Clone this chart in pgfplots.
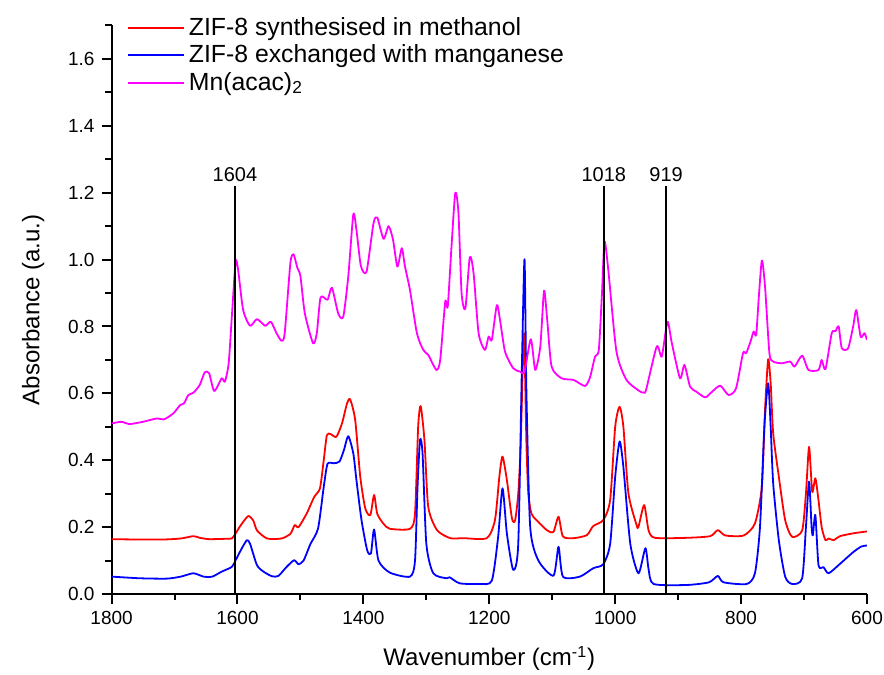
\documentclass[border=0pt]{standalone}
\usepackage{fontspec}
\setmainfont{Liberation Sans}
\usepackage{pgfplots}
\pgfplotsset{compat=1.18}
\usetikzlibrary{calc}
\definecolor{magline}{RGB}{255,0,255}

\begin{document}
\begin{tikzpicture}
\begin{axis}[
    width=377.7pt, height=284.25pt,
    scale only axis,
    x dir=reverse,
    xmin=600, xmax=1800,
    ymin=0, ymax=1.7,
    axis x line*=bottom,
    axis y line*=left,
    axis line style={line width=1pt},
    tick align=outside,
    major tick length=5pt,
    minor tick length=3.2pt,
    every tick/.style={black, line width=1pt},
    xtick={600,800,...,1800},
    minor xtick={700,900,...,1700},
    ytick={0,0.2,...,1.6},
    minor ytick={0.1,0.3,...,1.7},
    /pgf/number format/assume math mode=true,
    xticklabel style={/pgf/number format/1000 sep={}, font=\fontsize{9.5}{11}\selectfont},
    yticklabel style={/pgf/number format/fixed, /pgf/number format/fixed zerofill, /pgf/number format/precision=1, font=\fontsize{9.5}{11}\selectfont},
    xlabel={Wavenumber (cm\textsuperscript{-1})},
    ylabel={Absorbance (a.u.)},
    label style={font=\fontsize{12}{14}\selectfont},
    xlabel style={yshift=-4pt},
    ylabel style={yshift=5pt},
    legend style={at={(0.02,1.022)}, anchor=north west, draw=none, fill=none,
        font=\fontsize{12.4}{14}\selectfont, row sep=-0.8pt, inner sep=0pt},
    legend cell align=left,
    legend image code/.code={\draw[#1] (0pt,0pt) -- (28pt,0pt);},
    every axis plot/.append style={line width=0.9pt, line join=round, smooth, tension=0.4},
]
\coordinate (sw) at (rel axis cs:0,0);
\coordinate (ne) at (rel axis cs:1,1);

% ZIF-8 in methanol
\addplot[red] coordinates {
(1800,0.164) (1760,0.163) (1717,0.163) (1690,0.166) (1670,0.173) (1660,0.168)
(1645,0.164) (1620,0.165) (1609,0.166) (1603,0.181) (1595,0.205) (1583,0.233)
(1575,0.220) (1569,0.190) (1553,0.166) (1530,0.166) (1516,0.180) (1509,0.206)
(1503,0.200) (1490,0.241) (1478,0.291) (1469,0.316) (1463,0.400) (1458,0.475)
(1452,0.478) (1443,0.470) (1434,0.510) (1426,0.570) (1421,0.582) (1413,0.520)
(1405,0.351) (1397,0.256) (1389,0.236) (1383,0.296) (1378,0.240) (1368,0.210)
(1358,0.195) (1326,0.195) (1318,0.241) (1313,0.500) (1309,0.562) (1303,0.460)
(1297,0.261) (1283,0.191) (1262,0.167) (1241,0.167) (1204,0.167) (1191,0.221)
(1184,0.351) (1179,0.411) (1172,0.340) (1164,0.226) (1159,0.220) (1154,0.300)
(1150,0.450) (1145,0.780) (1141,0.450) (1138,0.300) (1133,0.240) (1125,0.221)
(1108,0.190) (1098,0.186) (1090,0.231) (1083,0.172) (1066,0.167) (1045,0.176)
(1035,0.203) (1019,0.221) (1008,0.281) (1000,0.500) (993,0.560) (987,0.500)
(979,0.301) (966,0.206) (963,0.201) (954,0.266) (947,0.191) (937,0.168)
(886,0.168) (849,0.173) (837,0.191) (825,0.175) (796,0.175) (778,0.211)
(767,0.321) (762,0.550) (757,0.702) (753,0.630) (749,0.480) (740,0.350)
(730,0.221) (719,0.171) (703,0.190) (697,0.300) (692,0.440) (687,0.306)
(682,0.346) (677,0.280) (672,0.200) (666,0.161) (661,0.166) (653,0.161)
(643,0.173) (620,0.182) (600,0.187)
};
\addlegendentry{ZIF-8 synthesised in methanol}

% exchanged with Mn
\addplot[blue] coordinates {
(1800,0.052) (1755,0.047) (1712,0.046) (1690,0.052) (1670,0.062) (1654,0.052)
(1640,0.052) (1625,0.067) (1609,0.081) (1603,0.101) (1593,0.137) (1585,0.161)
(1580,0.150) (1569,0.086) (1558,0.066) (1545,0.053) (1535,0.054) (1522,0.081)
(1510,0.101) (1503,0.089) (1495,0.100) (1484,0.150) (1472,0.196) (1463,0.320)
(1457,0.389) (1447,0.391) (1438,0.396) (1431,0.430) (1424,0.472) (1416,0.420)
(1411,0.340) (1403,0.221) (1394,0.131) (1388,0.121) (1383,0.193) (1376,0.100)
(1358,0.064) (1326,0.052) (1318,0.100) (1314,0.320) (1310,0.461) (1306,0.420)
(1300,0.150) (1289,0.062) (1268,0.047) (1263,0.050) (1247,0.032) (1215,0.030)
(1196,0.040) (1186,0.170) (1179,0.316) (1172,0.180) (1162,0.072) (1154,0.150)
(1148,0.700) (1144,1.001) (1141,0.600) (1135,0.200) (1122,0.100) (1098,0.055)
(1090,0.141) (1083,0.052) (1056,0.052) (1035,0.077) (1019,0.089) (1008,0.150)
(1000,0.350) (993,0.456) (987,0.380) (976,0.150) (963,0.062) (952,0.137)
(947,0.075) (939,0.030) (886,0.027) (851,0.035) (837,0.054) (828,0.035)
(791,0.030) (778,0.062) (770,0.200) (763,0.500) (757,0.630) (753,0.500)
(749,0.330) (740,0.160) (730,0.052) (719,0.030) (703,0.047) (697,0.200)
(692,0.336) (688,0.200) (686,0.176) (682,0.236) (677,0.086) (669,0.080)
(661,0.062) (643,0.090) (622,0.125) (609,0.142) (600,0.145)
};
\addlegendentry{ZIF-8 exchanged with manganese}

% Mn(acac)2
\addplot[magline] coordinates {
(1800,0.510) (1784,0.515) (1772,0.508) (1750,0.515) (1728,0.525) (1717,0.522)
(1702,0.540) (1691,0.565) (1685,0.570) (1678,0.595) (1670,0.602) (1660,0.625)
(1652,0.663) (1645,0.660) (1637,0.607) (1625,0.645) (1620,0.635) (1614,0.690)
(1609,0.829) (1603,0.994) (1599,0.969) (1591,0.849) (1580,0.802) (1569,0.822)
(1556,0.802) (1547,0.814) (1538,0.780) (1530,0.757) (1525,0.780) (1516,0.989)
(1511,1.016) (1505,0.976) (1500,0.950) (1493,0.839) (1480,0.750) (1474,0.780)
(1468,0.887) (1457,0.880) (1450,0.916) (1440,0.839) (1432,0.829) (1424,0.950)
(1416,1.135) (1411,1.088) (1404,0.981) (1395,0.964) (1384,1.108) (1378,1.126)
(1368,1.062) (1360,1.100) (1353,1.060) (1346,0.979) (1339,1.034) (1334,0.980)
(1326,0.909) (1315,0.780) (1305,0.730) (1297,0.715) (1284,0.670) (1278,0.700)
(1270,0.874) (1266,0.860) (1260,1.040) (1254,1.200) (1249,1.140) (1244,0.899)
(1238,0.854) (1231,1.007) (1225,0.960) (1217,0.780) (1207,0.730) (1201,0.770)
(1196,0.760) (1188,0.864) (1183,0.820) (1175,0.725) (1162,0.675) (1151,0.665)
(1144,0.665) (1134,0.762) (1127,0.670) (1119,0.740) (1113,0.907) (1108,0.820)
(1101,0.680) (1085,0.645) (1066,0.640) (1048,0.622) (1040,0.648) (1032,0.710)
(1026,0.730) (1021,0.899) (1017,1.054) (1011,0.970) (998,0.725) (982,0.640)
(960,0.605) (955,0.603) (951,0.610) (934,0.740) (926,0.710) (917,0.814)
(910,0.750) (897,0.645) (890,0.685) (881,0.620) (871,0.605) (857,0.588)
(846,0.605) (833,0.623) (820,0.595) (808,0.615) (797,0.720) (792,0.720)
(785,0.755) (780,0.785) (776,0.775) (772,0.884) (767,0.997) (762,0.920)
(755,0.720) (749,0.695) (735,0.690) (722,0.695) (715,0.680) (703,0.713)
(693,0.670) (677,0.670) (672,0.700) (666,0.672) (656,0.780) (650,0.786)
(645,0.800) (640,0.735) (630,0.735) (622,0.800) (617,0.849) (610,0.769)
(604,0.780) (600,0.760)
};
\addlegendentry{Mn(acac)\textsubscript{2}}

% marker lines
\draw[black, line width=0.8pt] (axis cs:1604,0) -- (axis cs:1604,1.22);
\draw[black, line width=0.8pt] (axis cs:1018,0) -- (axis cs:1018,1.22);
\draw[black, line width=0.8pt] (axis cs:919,0) -- (axis cs:919,1.22);
\node[anchor=south, font=\fontsize{10}{12}\selectfont, inner sep=1pt] at (axis cs:1604,1.225) {1604};
\node[anchor=south, font=\fontsize{10}{12}\selectfont, inner sep=1pt] at (axis cs:1018,1.225) {1018};
\node[anchor=south, font=\fontsize{10}{12}\selectfont, inner sep=1pt] at (axis cs:919,1.225) {919};
\end{axis}
\pgfresetboundingbox
\path ($(sw)+(-55.8pt,-40.5pt)$) rectangle ($(ne)+(8.5pt,12.75pt)$);
\end{tikzpicture}
\end{document}
